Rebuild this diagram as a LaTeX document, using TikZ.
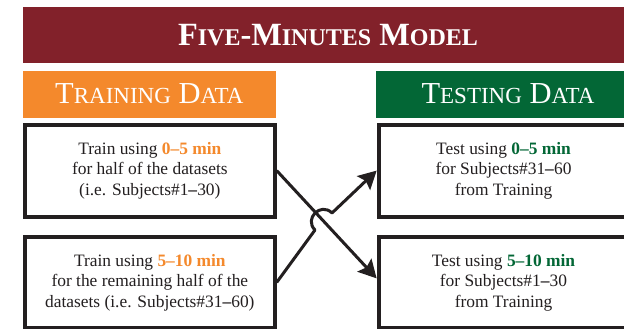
\documentclass[tikz,border=0pt]{standalone}
\usepackage{fontspec}
\setmainfont{Liberation Serif}
\usetikzlibrary{arrows.meta}
\definecolor{titlered}{HTML}{82212A}
\definecolor{trainorange}{HTML}{F4892C}
\definecolor{testgreen}{HTML}{036736}
\definecolor{inkdark}{HTML}{231F20}
\newcommand\scA[1]{{\fontsize{24}{24}\selectfont #1}}
\newcommand\scB[1]{{\fontsize{23}{23}\selectfont #1}}
\newcommand\hlo[1]{\textbf{\color{trainorange}#1}}
\newcommand\hlg[1]{\textbf{\color{testgreen}#1}}
\newcommand\bdash{\textbf{–}}
\begin{document}
\begin{tikzpicture}[x=1pt,y=-1pt,
  titlebar/.style={fill=titlered, text=white, minimum width=610.6pt, minimum height=56pt,
    inner sep=0pt, font=\fontsize{32.4}{36}\selectfont\bfseries},
  headbar/.style={text=white, minimum height=46.8pt, inner sep=0pt,
    font=\fontsize{30.5}{34}\selectfont},
  databox/.style={draw=inkdark, line width=4pt, minimum width=249.7pt, minimum height=91.8pt,
    inner sep=0pt, align=center, text=inkdark, font=\fontsize{17.4}{20.5}\selectfont},
  conn/.style={draw=inkdark, line width=3pt, line join=round,
    -{Stealth[length=18pt,width=19pt,inset=3pt]}}]
\useasboundingbox (0,0) rectangle (624,329);
\clip (0,0) rectangle (624,329);
\fill[white] (0,0) rectangle (624,329);

\node[titlebar] (title) at (328,34.7) {F\scA{IVE}-M\scA{INUTES} M\scA{ODEL}};
\node[headbar, fill=trainorange, minimum width=253.3pt] (train) at (149.35,94.1)
  {T\scB{RAINING} D\scB{ATA}};
\node[headbar, fill=testgreen, minimum width=264pt] (test) at (508,94.1)
  {T\scB{ESTING} D\scB{ATA}};

\node[databox] (lt) at (149.85,170.6)
  {Train using \hlo{0–5 min}\\ for half of the datasets\\ (i.e. Subjects\#1\bdash30)};
\node[databox] (lb) at (149.85,282.4)
  {Train using \hlo{5–10 min}\\ for the remaining half of the\\ datasets (i.e. Subjects\#31\bdash60)};
\node[databox] (rt) at (503.5,170.6)
  {Test using \hlg{0–5 min}\\ for Subjects\#31\bdash60\\ from Training};
\node[databox] (rb) at (503.5,282.4)
  {Test using \hlg{5–10 min}\\ for Subjects\#1\bdash30\\ from Training};

\coordinate (hopin) at (315,230);
\coordinate (hopout) at (332,213);
\draw[conn] (lt.east) -- ([yshift=4pt]rb.west);
\draw[conn] (lb.east) -- (hopin) .. controls (303.7,218.7) and (320.7,201.7) .. (hopout) -- (rt.west);
\end{tikzpicture}
\end{document}
